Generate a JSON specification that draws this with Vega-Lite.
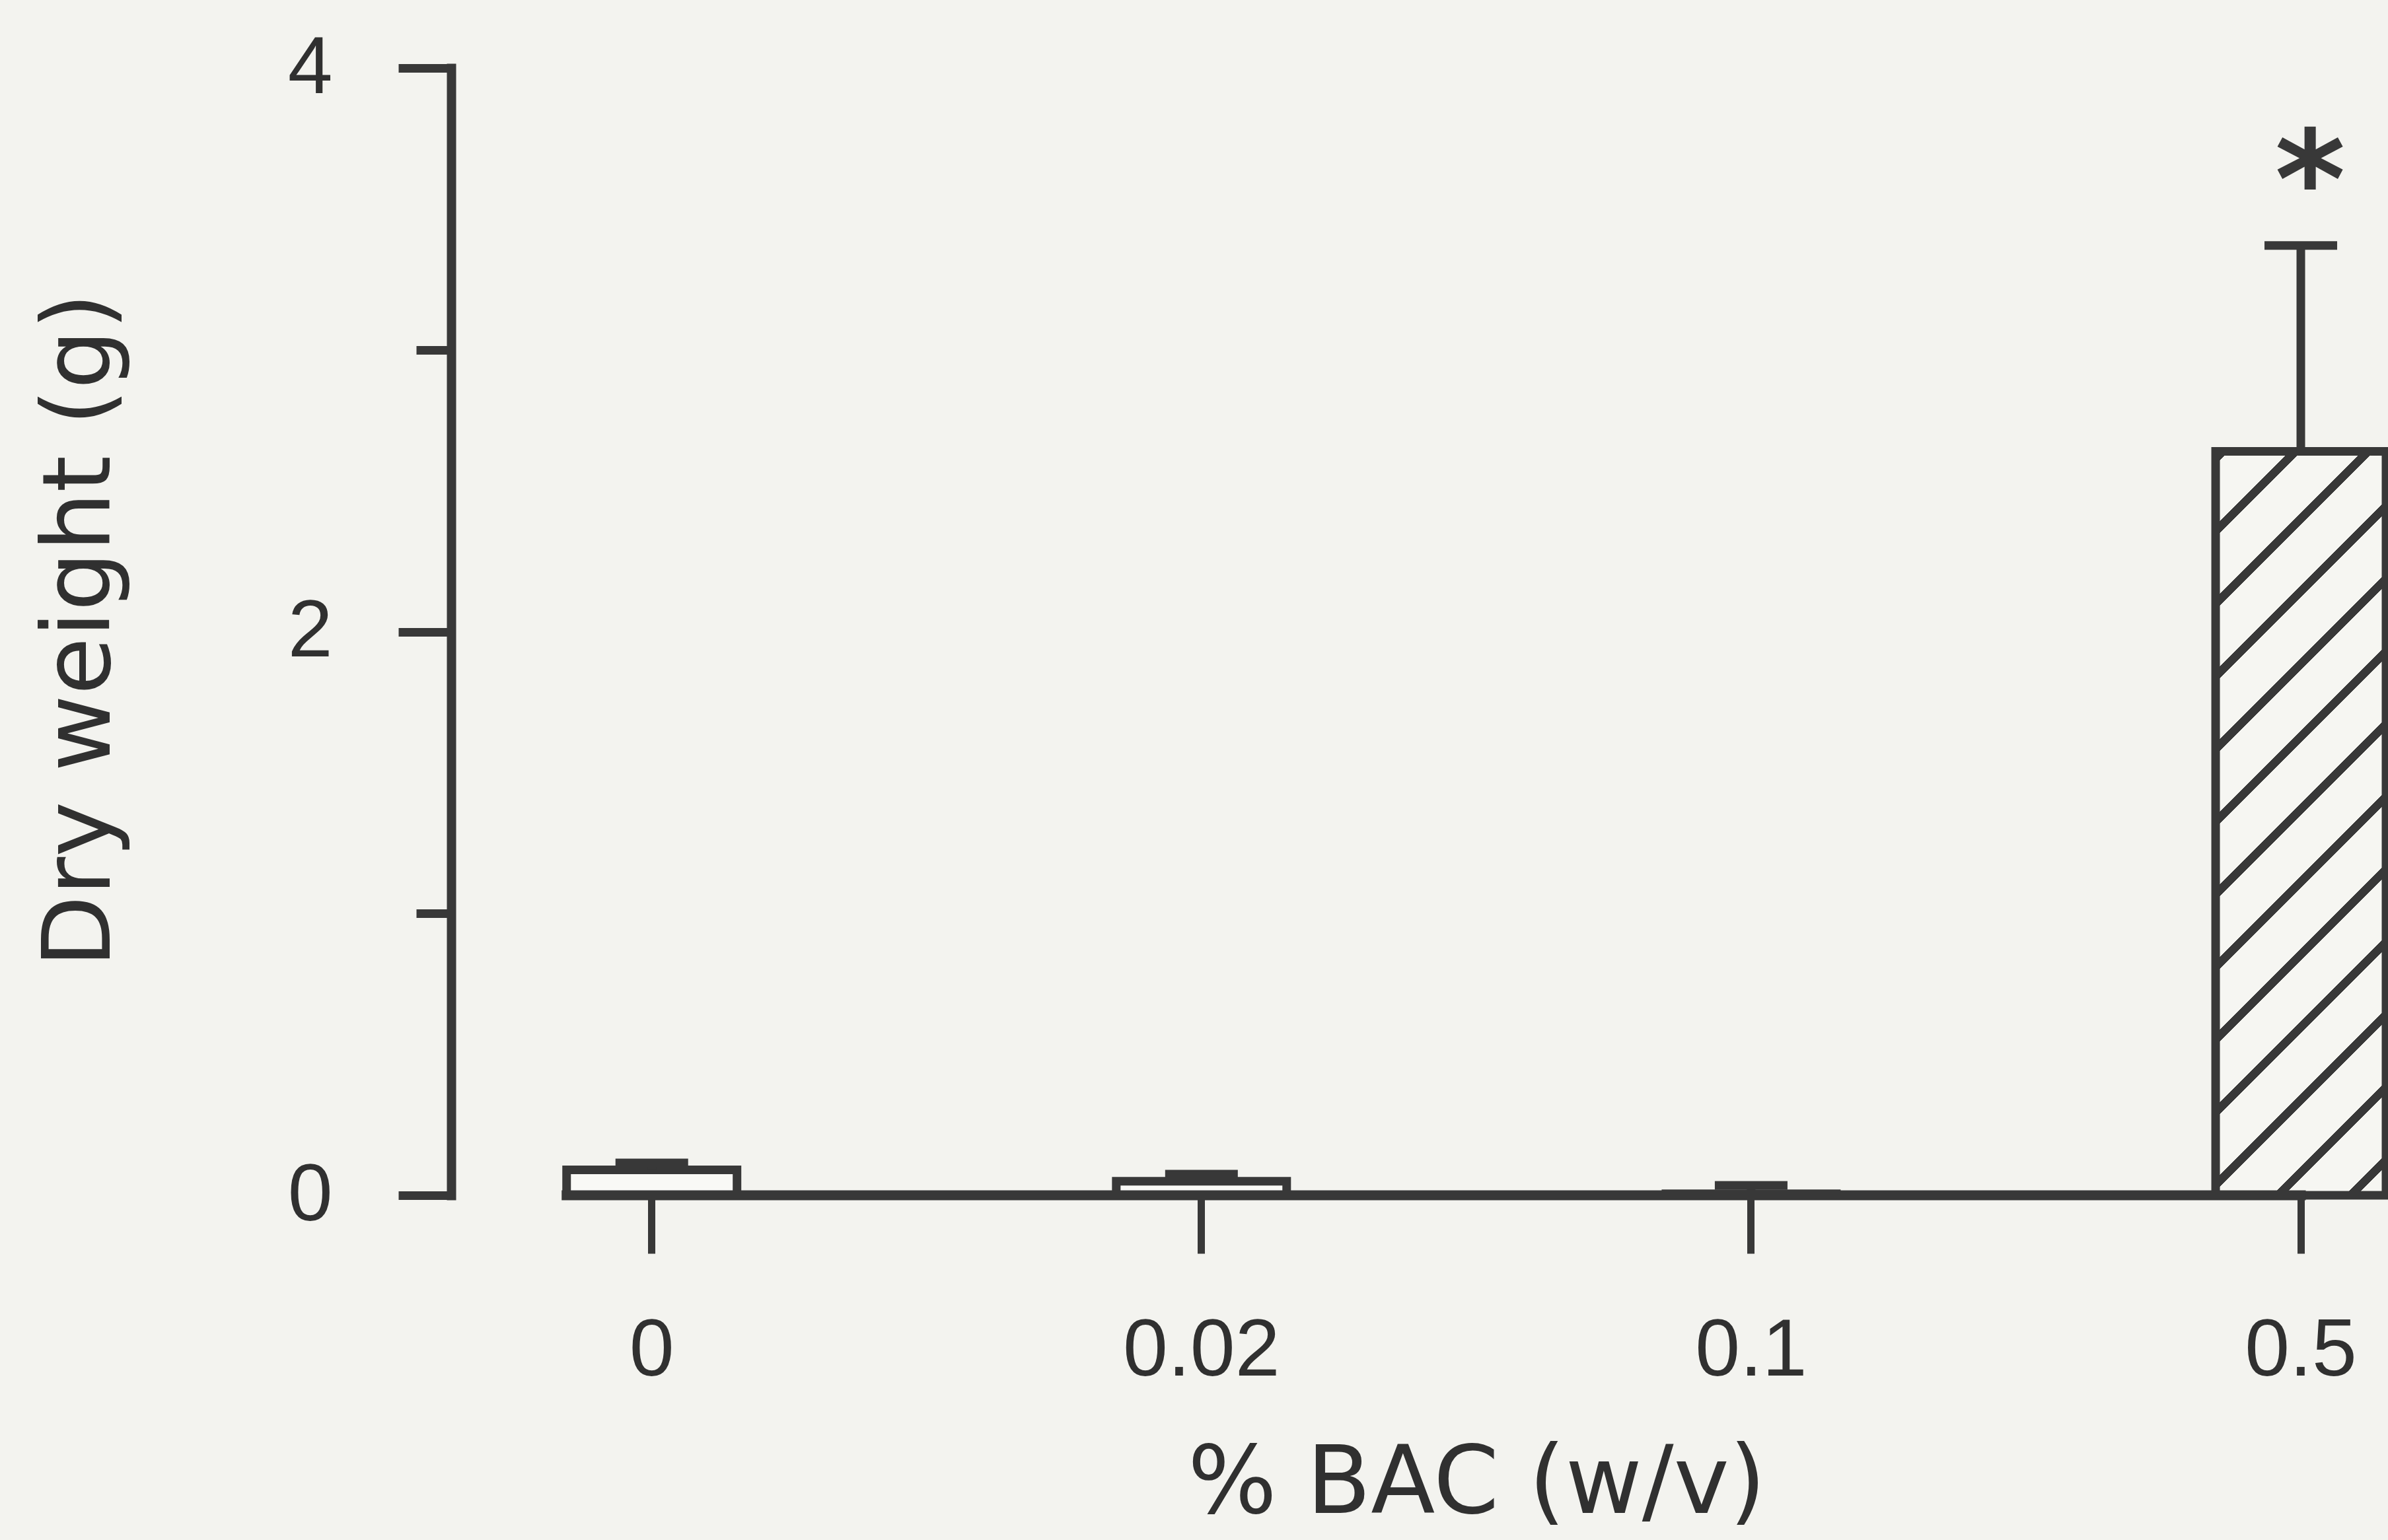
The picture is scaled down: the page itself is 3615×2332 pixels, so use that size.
{
  "$schema": "https://vega.github.io/schema/vega-lite/v6.json",
  "width": 2929,
  "height": 1707,
  "autosize": {"type": "none"},
  "padding": {"left": 683, "top": 103, "right": 3, "bottom": 522},
  "background": "#f3f3ef",
  "config": {"view": {"stroke": null}, "axis": {"grid": false}},
  "data": {
    "values": [
      {"cat": "0", "mean": 0.09, "err_hi": 0.115, "sig": ""},
      {"cat": "0.02", "mean": 0.05, "err_hi": 0.075, "sig": ""},
      {"cat": "0.1", "mean": 0.005, "err_hi": 0.035, "sig": ""},
      {"cat": "0.5", "mean": 2.64, "err_hi": 3.37, "sig": "*"}
    ]
  },
  "encoding": {
    "x": {
      "field": "cat",
      "type": "nominal",
      "sort": null,
      "scale": {"type": "band", "domain": ["0", "0.02", "0.1", "0.5"], "paddingInner": 0.69, "paddingOuter": 0.105, "align": 1, "round": false},
      "axis": {
        "title": "% BAC (w/v)",
        "domain": false,
        "ticks": true,
        "tickSize": 88,
        "tickWidth": 11,
        "tickColor": "#383838",
        "labelFont": "Liberation Sans",
        "labelFontSize": 122,
        "labelColor": "#303030",
        "labelAngle": 0,
        "labelLimit": 0,
        "labelBaseline": "alphabetic",
        "labelPadding": 184,
        "titleFont": "DejaVu Sans",
        "titleFontSize": 142,
        "titleFontWeight": "normal",
        "titleColor": "#303030",
        "titleX": 1552,
        "titleY": 480,
        "titleBaseline": "alphabetic",
        "titleAlign": "center"
      }
    }
  },
  "layer": [
    {
      "transform": [{"filter": "datum.cat !== '0.5'"}],
      "mark": {"type": "bar", "fill": "#f9f9f6", "stroke": "#383838", "strokeWidth": 13},
      "encoding": {
        "y": {
          "field": "mean",
          "type": "quantitative",
          "scale": {"domain": [0, 4], "nice": false, "zero": true},
          "axis": {
            "values": [0, 2, 4],
            "tickSize": 80,
            "tickWidth": 13,
            "tickColor": "#383838",
            "domain": true,
            "domainColor": "#383838",
            "domainWidth": 14,
            "domainCap": "square",
            "labelFont": "Liberation Sans",
            "labelFontSize": 122,
            "labelColor": "#303030",
            "labelPadding": 100,
            "labelBaseline": "middle",
            "labelAlign": "right",
            "labelFlush": false,
            "labelOverlap": false,
            "labelLimit": 0,
            "title": "Dry weight (g)",
            "titleFont": "DejaVu Sans",
            "titleFontSize": 142,
            "titleFontWeight": "normal",
            "titleColor": "#303030",
            "titleX": -518,
            "titleY": 851,
            "titleAngle": 270,
            "titleBaseline": "alphabetic",
            "titleAlign": "center"
          }
        }
      }
    },
    {
      "transform": [{"filter": "datum.cat === '0.5'"}],
      "mark": {
        "type": "bar",
        "stroke": "#383838",
        "strokeWidth": 13,
        "fill": {
          "gradient": "linear",
          "x1": 0, "y1": 0, "x2": 0.2674, "y2": 1.1678,
          "stops": [
            {"offset": 0, "color": "#f6f6f2"},
            {"offset": 0.0014, "color": "#f6f6f2"}, {"offset": 0.0014, "color": "#383838"}, {"offset": 0.0144, "color": "#383838"}, {"offset": 0.0144, "color": "#f6f6f2"},
            {"offset": 0.0809, "color": "#f6f6f2"}, {"offset": 0.0809, "color": "#383838"}, {"offset": 0.0939, "color": "#383838"}, {"offset": 0.0939, "color": "#f6f6f2"},
            {"offset": 0.1603, "color": "#f6f6f2"}, {"offset": 0.1603, "color": "#383838"}, {"offset": 0.1733, "color": "#383838"}, {"offset": 0.1733, "color": "#f6f6f2"},
            {"offset": 0.2397, "color": "#f6f6f2"}, {"offset": 0.2397, "color": "#383838"}, {"offset": 0.2527, "color": "#383838"}, {"offset": 0.2527, "color": "#f6f6f2"},
            {"offset": 0.3191, "color": "#f6f6f2"}, {"offset": 0.3191, "color": "#383838"}, {"offset": 0.3321, "color": "#383838"}, {"offset": 0.3321, "color": "#f6f6f2"},
            {"offset": 0.3986, "color": "#f6f6f2"}, {"offset": 0.3986, "color": "#383838"}, {"offset": 0.4116, "color": "#383838"}, {"offset": 0.4116, "color": "#f6f6f2"},
            {"offset": 0.4780, "color": "#f6f6f2"}, {"offset": 0.4780, "color": "#383838"}, {"offset": 0.4910, "color": "#383838"}, {"offset": 0.4910, "color": "#f6f6f2"},
            {"offset": 0.5574, "color": "#f6f6f2"}, {"offset": 0.5574, "color": "#383838"}, {"offset": 0.5704, "color": "#383838"}, {"offset": 0.5704, "color": "#f6f6f2"},
            {"offset": 0.6368, "color": "#f6f6f2"}, {"offset": 0.6368, "color": "#383838"}, {"offset": 0.6498, "color": "#383838"}, {"offset": 0.6498, "color": "#f6f6f2"},
            {"offset": 0.7162, "color": "#f6f6f2"}, {"offset": 0.7162, "color": "#383838"}, {"offset": 0.7292, "color": "#383838"}, {"offset": 0.7292, "color": "#f6f6f2"},
            {"offset": 0.7957, "color": "#f6f6f2"}, {"offset": 0.7957, "color": "#383838"}, {"offset": 0.8087, "color": "#383838"}, {"offset": 0.8087, "color": "#f6f6f2"},
            {"offset": 0.8751, "color": "#f6f6f2"}, {"offset": 0.8751, "color": "#383838"}, {"offset": 0.8881, "color": "#383838"}, {"offset": 0.8881, "color": "#f6f6f2"},
            {"offset": 0.9545, "color": "#f6f6f2"}, {"offset": 0.9545, "color": "#383838"}, {"offset": 0.9675, "color": "#383838"}, {"offset": 0.9675, "color": "#f6f6f2"},
            {"offset": 1, "color": "#f6f6f2"}
          ]
        }
      },
      "encoding": {
        "y": {
          "field": "mean",
          "type": "quantitative",
          "axis": {
            "orient": "left",
            "values": [1, 3],
            "tickSize": 53,
            "tickWidth": 13,
            "tickColor": "#383838",
            "domain": false,
            "labels": false,
            "title": null
          }
        }
      }
    },
    {
      "mark": {"type": "rule", "stroke": "#383838", "strokeWidth": 13},
      "encoding": {
        "y": {"field": "mean", "type": "quantitative", "axis": null},
        "y2": {"field": "err_hi"}
      }
    },
    {
      "mark": {"type": "tick", "color": "#383838", "opacity": 1, "thickness": 13, "size": 110, "orient": "horizontal"},
      "encoding": {
        "y": {"field": "err_hi", "type": "quantitative", "axis": null}
      }
    },
    {
      "mark": {"type": "text", "font": "DejaVu Sans", "fontWeight": "bold", "fontSize": 205, "align": "center", "baseline": "alphabetic", "dy": -28, "dx": 14, "color": "#383838"},
      "encoding": {
        "y": {"field": "err_hi", "type": "quantitative", "axis": null},
        "text": {"field": "sig"}
      }
    },
    {
      "data": {"values": [{"cat": "0", "cat_end": "0.5"}]},
      "mark": {"type": "rule", "stroke": "#383838", "strokeWidth": 15, "strokeCap": "square"},
      "encoding": {
        "x": {"field": "cat", "type": "nominal", "bandPosition": 0},
        "x2": {"field": "cat_end"},
        "y": {"datum": 0, "type": "quantitative", "axis": null}
      }
    }
  ],
  "resolve": {"axis": {"y": "independent"}}
}
